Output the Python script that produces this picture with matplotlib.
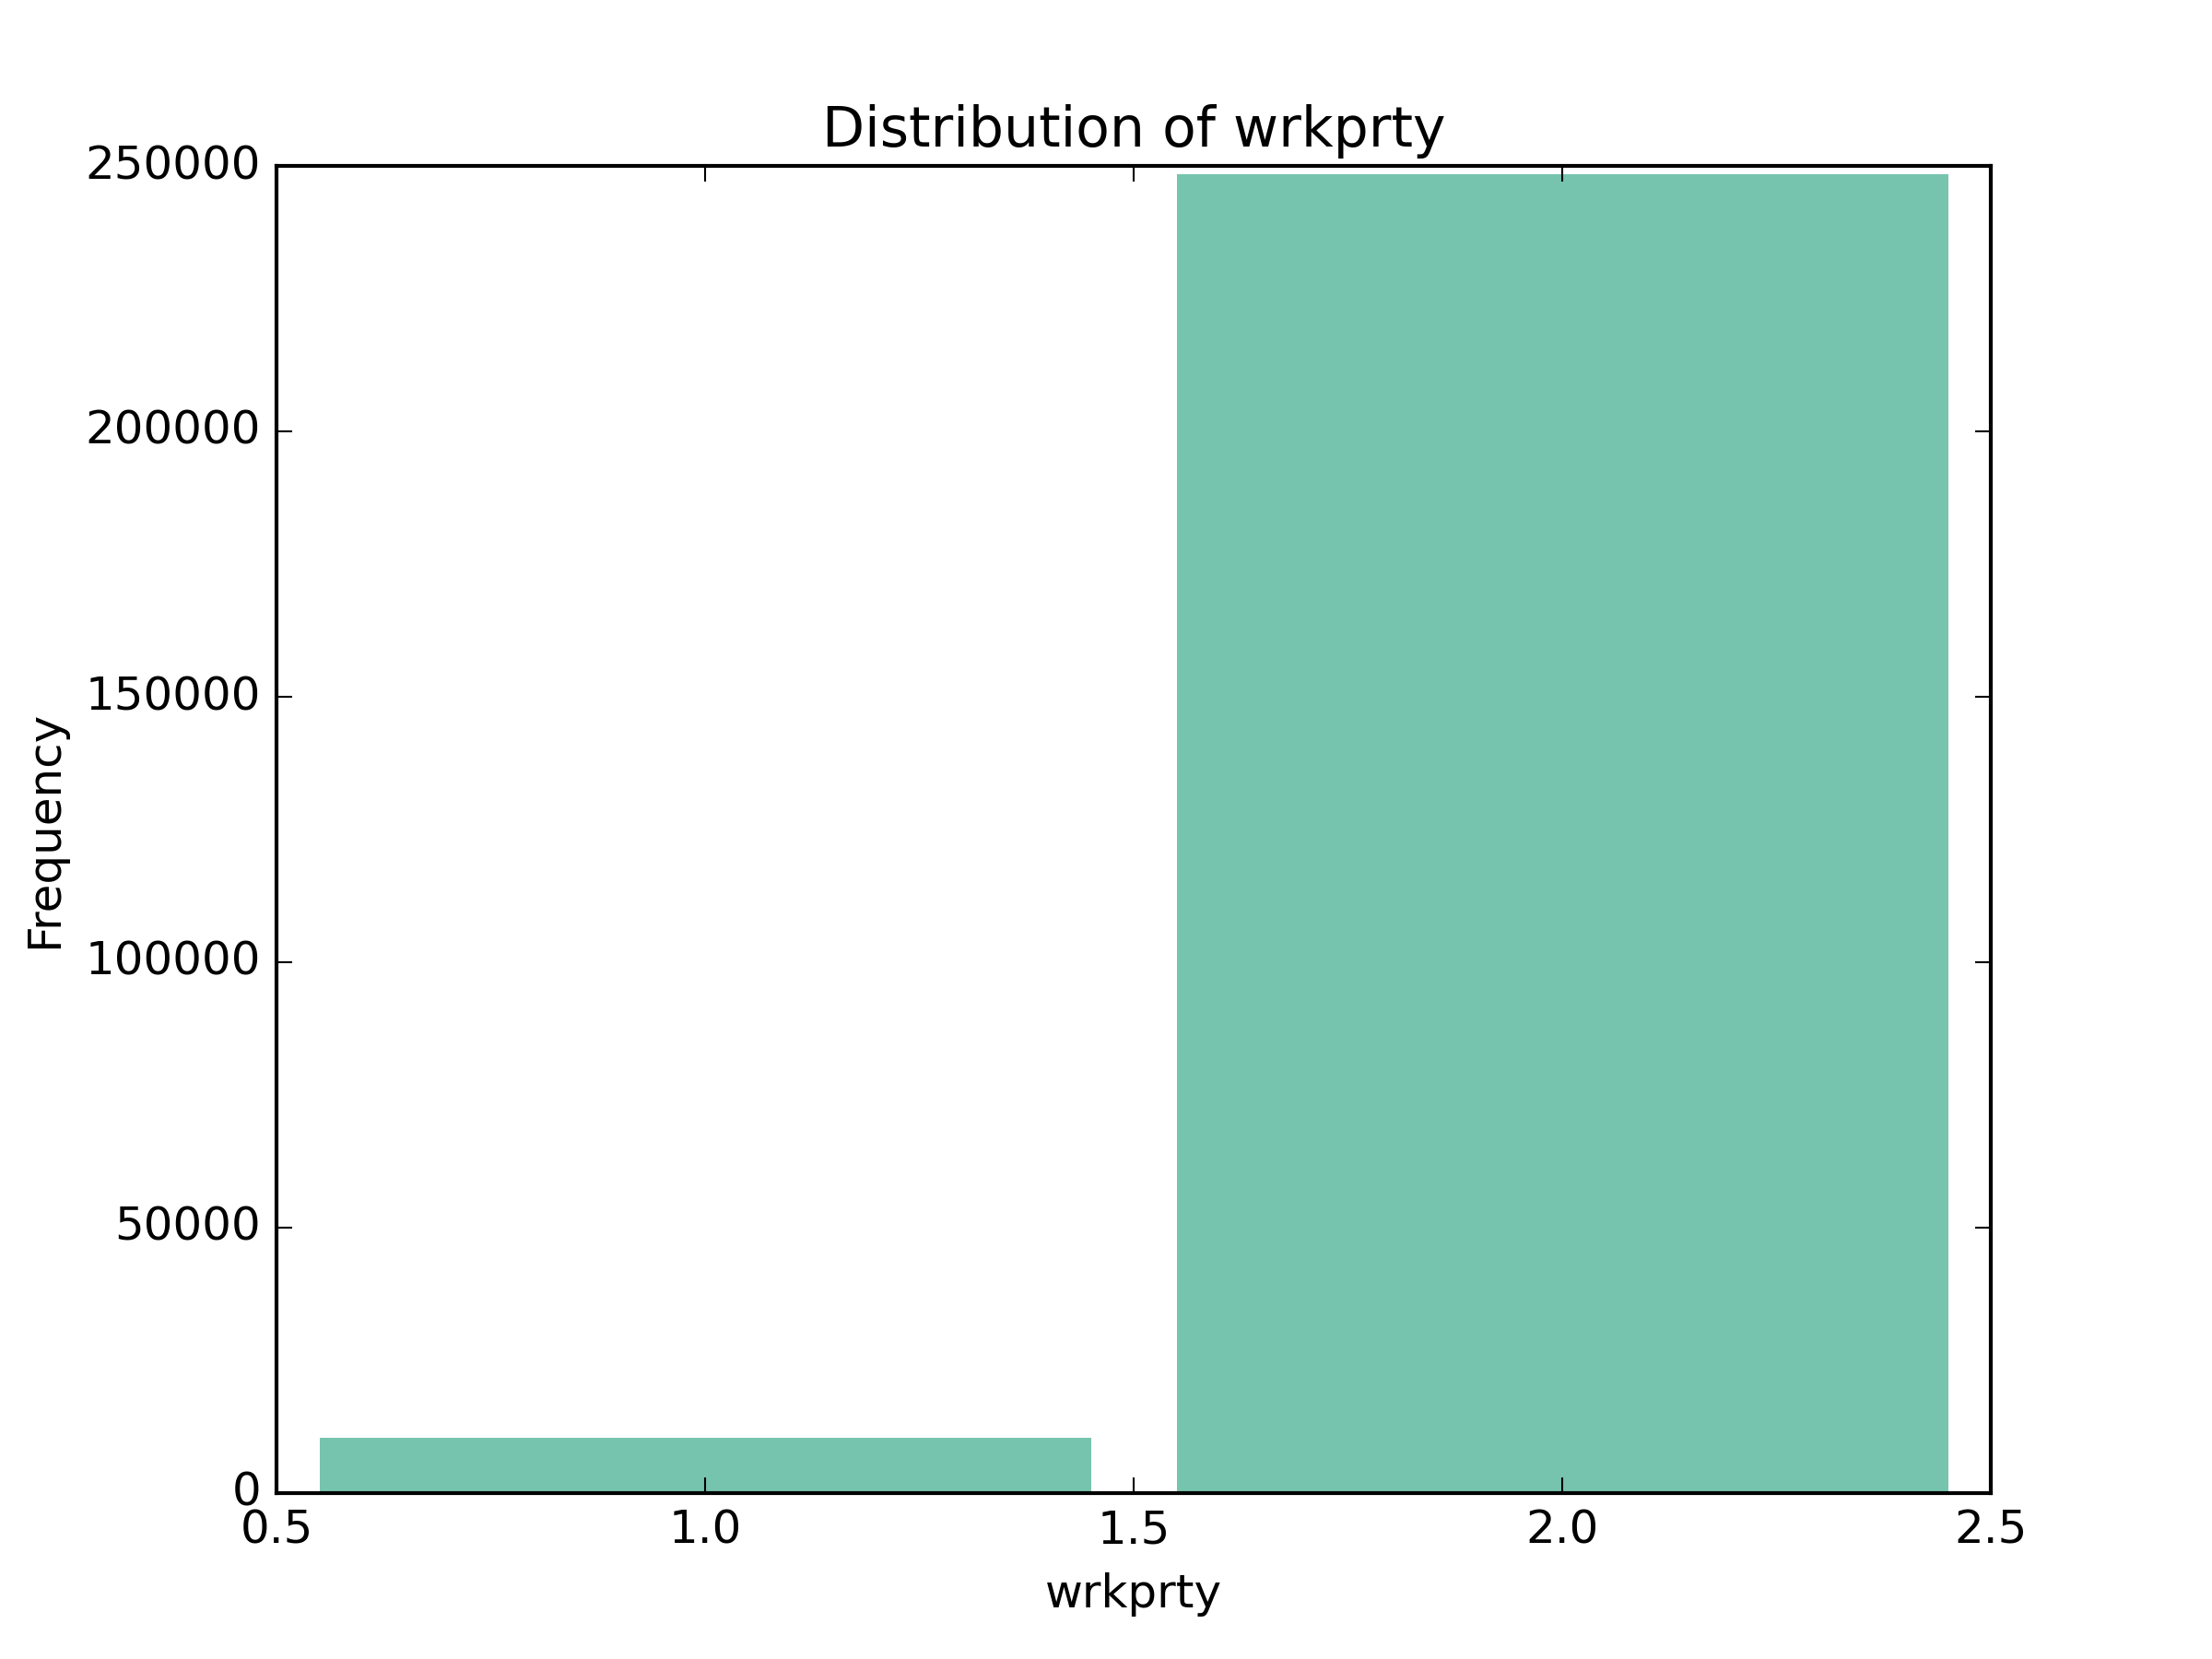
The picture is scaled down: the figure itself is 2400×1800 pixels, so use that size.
import matplotlib
matplotlib.use("Agg")
import matplotlib.pyplot as plt

# wrkprty value counts
categories = [1, 2]
counts = [10400, 248400]

plt.style.use("classic")

fig, ax = plt.subplots(figsize=(8, 6))
ax.bar(categories, counts, width=0.9, color="#77c4ae", edgecolor="none")
ax.set_xlim(0.5, 2.5)
ax.set_ylim(0, 250000)
ax.set_xlabel("wrkprty")
ax.set_ylabel("Frequency")
ax.set_title("Distribution of wrkprty")
fig.savefig("out.png", dpi=300, facecolor="white")
